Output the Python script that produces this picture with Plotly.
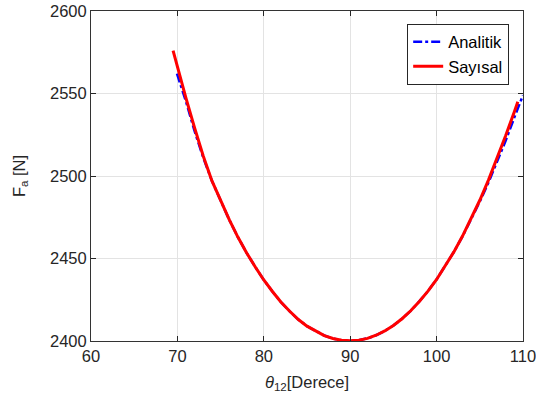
import plotly.graph_objects as go

# Analitik (blue, dash-dot)
analitik_x = [69.95, 71, 72, 73, 74, 75, 76, 77, 78, 79, 80, 81, 82, 83, 84, 85, 86, 87, 88, 89, 90,
              91, 92, 93, 94, 95, 96, 97, 98, 99, 100, 101, 102, 103, 104, 105, 106, 107, 108, 109, 110]
analitik_y = [2562, 2545, 2527, 2511, 2497, 2485, 2473.5, 2463, 2453.5, 2445, 2437, 2430, 2423.5, 2418,
              2413, 2409, 2406, 2403.3, 2401.5, 2400.4, 2400.1,
              2400.5, 2401.6, 2403.5, 2406.1, 2409.4, 2413.5, 2418.3, 2424, 2430.2, 2437.3, 2445.3, 2454,
              2463.4, 2473.5, 2484.5, 2496, 2508.5, 2521.5, 2535.5, 2549]

# Sayısal (red, solid)
sayisal_x = [69.5, 70, 71, 72, 73, 74, 75, 76, 77, 78, 79, 80, 81, 82, 83, 84, 85, 86, 87, 88, 89, 90,
             91, 92, 93, 94, 95, 96, 97, 98, 99, 100, 101, 102, 103, 104, 105, 106, 107, 108, 109, 109.4]
sayisal_y = [2576, 2566, 2547, 2529, 2512, 2497, 2485, 2473.5, 2463, 2453.5, 2445, 2437, 2430, 2423.5,
             2418, 2413, 2409, 2406, 2403.3, 2401.5, 2400.4, 2400.1,
             2400.5, 2401.6, 2403.5, 2406.1, 2409.4, 2413.5, 2418.3, 2424, 2430.2, 2437.3, 2445.3, 2454,
             2463.6, 2474, 2485.3, 2497.5, 2510.5, 2524.5, 2539, 2545]

x_ticks = [60, 70, 80, 90, 100, 110]
y_ticks = [2400, 2450, 2500, 2550, 2600]

FONT = "Liberation Sans, Arial, sans-serif"
AX = "#262626"

fig = go.Figure()
fig.add_trace(go.Scatter(x=analitik_x, y=analitik_y, mode="lines", name="Analitik",
                         line=dict(color="#0000ff", width=2.5, dash="dashdot")))
fig.add_trace(go.Scatter(x=sayisal_x, y=sayisal_y, mode="lines", name="Sayısal",
                         line=dict(color="#ff0000", width=3)))

axis_common = dict(
    showline=True, linecolor="#333333", linewidth=1, mirror="ticks",
    ticks="inside", ticklen=5, tickcolor=AX, tickwidth=1,
    showgrid=True, gridcolor="#e3e3e3", gridwidth=1, zeroline=False,
    tickfont=dict(family=FONT, size=16.5, color=AX),
    automargin=False, ticklabeloverflow="allow",
)

fig.update_layout(
    width=536, height=408,
    margin=dict(l=91, r=13, t=11, b=67),
    paper_bgcolor="white", plot_bgcolor="white",
    font=dict(family=FONT, color=AX),
    xaxis=dict(range=[60, 110], tickvals=x_ticks, ticktext=[str(v) for v in x_ticks],
               title=dict(text="<i>θ</i><sub>12</sub>[Derece]", font=dict(family=FONT, size=16.5, color=AX), standoff=12),
               **axis_common),
    yaxis=dict(range=[2400, 2600], tickvals=y_ticks, ticktext=[str(v) for v in y_ticks],
               title=dict(text="F<sub>a</sub> [N]", font=dict(family=FONT, size=16.5, color=AX), standoff=20),
               **axis_common),
    legend=dict(x=0.968, y=0.962, xanchor="right", yanchor="top",
                bgcolor="white", bordercolor=AX, borderwidth=1,
                font=dict(family=FONT, size=16.5, color="#000000"),
                tracegroupgap=0, itemwidth=30),
    showlegend=True,
)

fig.write_html("out.html", config={"displayModeBar": False},
               post_script="document.body.style.margin='0';document.body.style.overflow='hidden';")
